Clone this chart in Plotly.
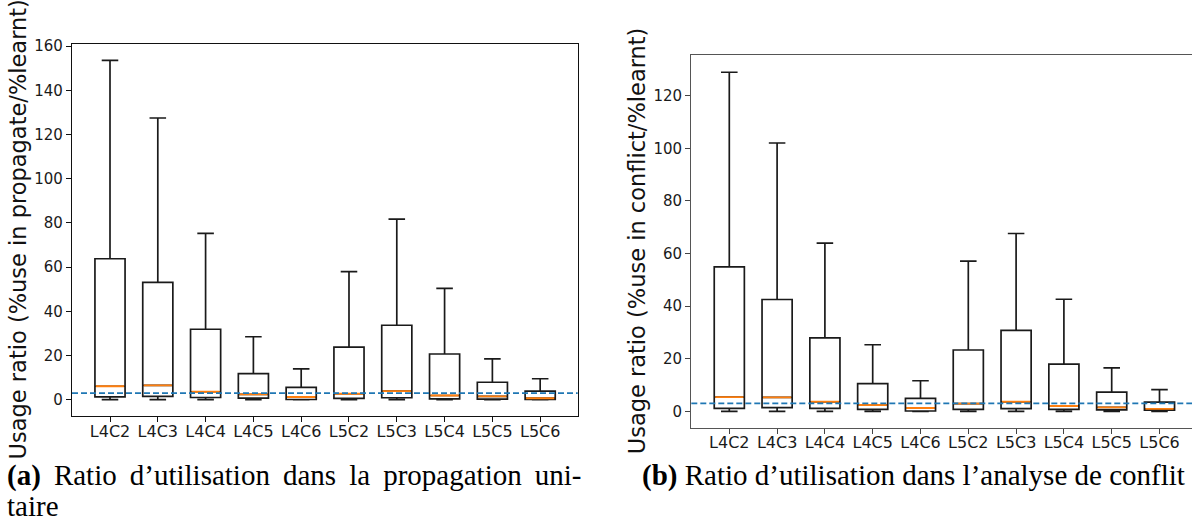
import plotly.graph_objects as go

# Solver configurations on the x axis
categories = ["L4C2", "L4C3", "L4C4", "L4C5", "L4C6",
              "L5C2", "L5C3", "L5C4", "L5C5", "L5C6"]

# (a) usage ratio in unit propagation: box-plot statistics per configuration
prop_lower = [0.0, 0.0, 0.05, 0.0, 0.0, 0.0, 0.0, 0.0, 0.0, 0.0]
prop_q1 = [1.3, 1.5, 1.0, 0.7, 0.1, 0.6, 0.9, 0.4, 0.3, 0.1]
prop_median = [6.1, 6.5, 3.6, 2.4, 1.2, 2.7, 3.9, 1.9, 1.5, 0.7]
prop_q3 = [63.8, 53.1, 31.9, 11.8, 5.6, 23.8, 33.7, 20.7, 7.9, 3.9]
prop_upper = [153.6, 127.5, 75.3, 28.5, 14.0, 58.0, 81.7, 50.4, 18.5, 9.5]
prop_reference = 3.0

# (b) usage ratio in conflict analysis
conf_lower = [0.0, 0.0, 0.0, 0.0, 0.0, 0.0, 0.0, 0.0, 0.0, 0.0]
conf_q1 = [1.1, 1.4, 1.1, 0.75, 0.1, 0.75, 1.0, 0.75, 0.5, 0.4]
conf_median = [5.4, 5.3, 3.6, 2.4, 1.25, 2.9, 3.6, 2.0, 1.5, 0.9]
conf_q3 = [54.9, 42.5, 27.9, 10.5, 4.9, 23.3, 30.8, 17.9, 7.3, 3.5]
conf_upper = [128.9, 102.0, 63.9, 25.3, 11.6, 57.1, 67.6, 42.6, 16.5, 8.2]
conf_reference = 3.0

prop_yticks = [0, 20, 40, 60, 80, 100, 120, 140, 160]
conf_yticks = [0, 20, 40, 60, 80, 100, 120]

W, H = 1192, 522
BOX_W = 0.63
positions = list(range(len(categories)))

fig = go.Figure()


def add_panel(lower, q1, med, q3, upper, xa, ya, line_color):
    fig.add_trace(go.Box(
        x=positions, q1=q1, median=med, q3=q3,
        lowerfence=lower, upperfence=upper,
        width=BOX_W, whiskerwidth=0.55, boxpoints=False,
        fillcolor="rgba(0,0,0,0)",
        line=dict(color=line_color, width=1.7),
        xaxis=xa, yaxis=ya, showlegend=False, hoverinfo="skip",
    ))
    mx, my = [], []
    for p, m in zip(positions, med):
        mx += [p - BOX_W / 2 + 0.02, p + BOX_W / 2 - 0.02, None]
        my += [m, m, None]
    fig.add_trace(go.Scatter(
        x=mx, y=my, mode="lines",
        line=dict(color="#ff7f0e", width=1.9),
        xaxis=xa, yaxis=ya, showlegend=False, hoverinfo="skip",
    ))


add_panel(prop_lower, prop_q1, prop_median, prop_q3, prop_upper, "x", "y", "#1a1a1a")
add_panel(conf_lower, conf_q1, conf_median, conf_q3, conf_upper, "x2", "y2", "#1a1a1a")

tick_font = dict(family="DejaVu Sans", size=16, color="#1a1a1a")
ytick_font = dict(family="DejaVu Sans", size=15, color="#1a1a1a")

common_x = dict(tickvals=positions, ticktext=categories, ticks="outside",
                ticklen=5, tickwidth=1.3, showgrid=False, zeroline=False,
                showline=True, tickfont=tick_font, ticklabelstandoff=-5)
common_y = dict(ticks="outside", ticklen=5, tickwidth=1.3, showgrid=False,
                zeroline=False, showline=True, tickfont=ytick_font)

fig.update_layout(
    width=W, height=H, margin=dict(l=0, r=0, t=0, b=0),
    paper_bgcolor="white", plot_bgcolor="white",
    xaxis=dict(domain=[72 / W, 577.7 / W], range=[-0.795, 9.785],
               anchor="y", mirror=True, linecolor="#111", linewidth=1.3,
               tickcolor="#111", **common_x),
    yaxis=dict(domain=[(H - 415) / H, (H - 38) / H], range=[-7.47, 161.2],
               tickvals=prop_yticks, anchor="x", mirror=True,
               linecolor="#111", linewidth=1.3, tickcolor="#111", **common_y),
    xaxis2=dict(domain=[691.3 / W, 1.0], range=[-0.795, 9.68],
                anchor="y2", mirror=True, linecolor="#555", linewidth=1.3,
                tickcolor="#444", **common_x),
    yaxis2=dict(domain=[(H - 426.7) / H, (H - 50) / H], range=[-6.28, 135.3],
                tickvals=conf_yticks, anchor="x2", mirror=False,
                linecolor="#555", linewidth=1.3, tickcolor="#444", **common_y),
)

# Reference level (dashed horizontal line) in each panel
for ref, xr, yr in [(prop_reference, "x domain", "y"), (conf_reference, "x2 domain", "y2")]:
    fig.add_shape(type="line", xref=xr, yref=yr, x0=0, x1=1, y0=ref, y1=ref,
                  line=dict(color="#1f77b4", width=1.6, dash="6px,3px"),
                  layer="above")

title_font = dict(family="DejaVu Sans", size=22.5, color="#111")
fig.add_annotation(text="Usage ratio (%use in propagate/%learnt)",
                   xref="paper", yref="paper", x=17.5 / W, y=(H - 226.5) / H,
                   xanchor="center", yanchor="middle", textangle=-90,
                   showarrow=False, font=title_font)
fig.add_annotation(text="Usage ratio (%use in conflict/%learnt)",
                   xref="paper", yref="paper", x=637 / W, y=(H - 238) / H,
                   xanchor="center", yanchor="middle", textangle=-90,
                   showarrow=False, font=title_font)

# Captions; the first line of (a) is spread with thin spaces to fill its column
cap_font = dict(family="Liberation Serif", size=29, color="#000")
gap = " \u2009"
line_a = gap.join(["<b>(a)</b>", "Ratio", "d’utilisation", "dans", "la",
                   "propagation", "uni-"])
fig.add_annotation(text=line_a,
                   xref="paper", yref="paper", x=5 / W, y=(H - 475) / H,
                   xanchor="left", yanchor="middle", showarrow=False, font=cap_font)
fig.add_annotation(text="taire",
                   xref="paper", yref="paper", x=5 / W, y=(H - 506) / H,
                   xanchor="left", yanchor="middle", showarrow=False, font=cap_font)
fig.add_annotation(text="<b>(b)</b> Ratio d’utilisation dans l’analyse de conflit",
                   xref="paper", yref="paper", x=640 / W, y=(H - 475) / H,
                   xanchor="left", yanchor="middle", showarrow=False, font=cap_font)

fig.write_html("out.html")
